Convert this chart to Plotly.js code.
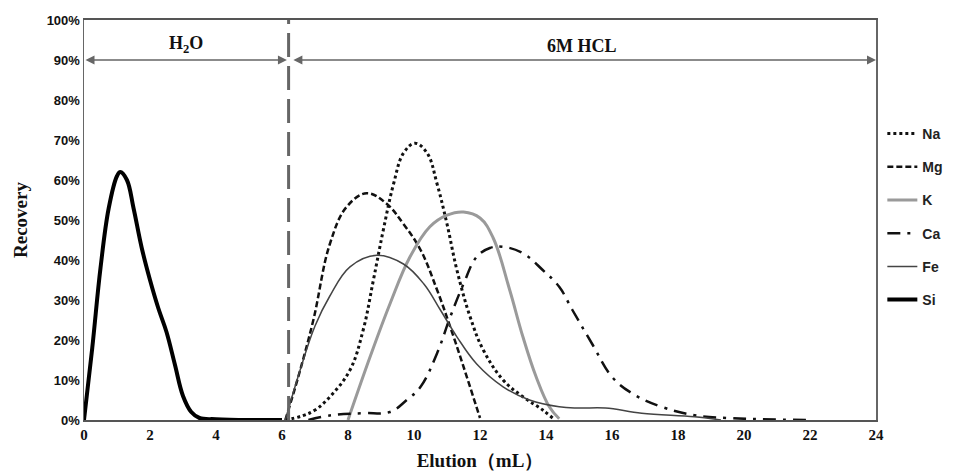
<!DOCTYPE html>
<html><head><meta charset="utf-8">
<script src="https://cdn.plot.ly/plotly-3.0.1.min.js"></script>
<style>html,body{margin:0;padding:0;background:#fff}#chart{width:968px;height:472px}</style>
</head><body><div id="chart"></div>
<script>
// Data (Elution mL vs Recovery %)
const naX = [6.1, 6.6, 7.0, 7.45, 8.06, 8.46, 8.77, 9.07, 9.38, 9.68, 10.03, 10.4, 10.7, 11.0, 11.3, 11.7, 12.1, 12.7, 13.3, 13.9, 14.2];
const naY = [0, 1, 2.5, 5.8, 12.5, 22.5, 35, 47.5, 59, 66.7, 69.2, 66.7, 59, 49, 37.5, 25.8, 17.5, 10, 5.8, 2.5, 0.5];
const mgX = [6.1, 6.5, 6.95, 7.45, 7.96, 8.57, 9.18, 9.68, 10.2, 10.7, 11.2, 11.6, 12.0];
const mgY = [0, 11, 25, 44, 53.3, 56.7, 54, 49, 42.5, 32.5, 20.8, 10.8, 0.5];
const kX = [8.0, 8.67, 9.27, 9.88, 10.48, 11.0, 11.5, 12.0, 12.4, 12.9, 13.3, 13.7, 14.1, 14.4];
const kY = [0, 15.8, 29, 40.8, 48.3, 51.2, 52, 50.5, 45.5, 32.5, 20.8, 10.8, 3.3, 0.3];
const caX = [6.8, 7.5, 8.46, 9.27, 9.78, 10.2, 10.7, 11.1, 11.5, 11.9, 12.3, 12.7, 13.3, 13.9, 14.4, 14.8, 15.4, 16.0, 16.6, 17.5, 18.5, 19.5, 20.5, 22.0];
const caY = [0, 1.2, 1.7, 2, 5, 8.3, 16.7, 25.8, 34, 40.8, 43, 43.3, 41.7, 37.5, 33.3, 27.5, 19, 10.8, 6.7, 3.3, 1.2, 0.5, 0.2, 0];
const feX = [6.1, 6.55, 7.0, 7.45, 8.06, 8.87, 9.68, 10.3, 10.8, 11.3, 11.9, 12.7, 13.5, 14.4, 15.0, 15.8, 16.9, 18.5, 19.3];
const feY = [0, 12.5, 23.5, 31, 38.3, 41.2, 39, 34, 27.5, 20.8, 14, 8.3, 5, 3.3, 3, 3, 1.7, 0.8, 0];
const siX = [0, 0.25, 0.5, 0.75, 1.0, 1.1, 1.3, 1.5, 1.75, 2.0, 2.25, 2.5, 2.75, 3.0, 3.25, 3.5, 4, 5, 6];
const siY = [0, 18, 38, 53, 61, 62, 60, 53, 43, 35, 28, 22, 14, 6, 2, 0.5, 0.2, 0, 0];

const regionBounds = [0, 6.2, 24];
const regionLabels = ['H<sub>2</sub>O', '6M HCL'];
const xTicks = [0, 2, 4, 6, 8, 10, 12, 14, 16, 18, 20, 22, 24];
const yTicks = [0, 10, 20, 30, 40, 50, 60, 70, 80, 90, 100];

const mk = (name, x, y, line) => ({
  type: 'scatter', mode: 'lines', name, x, y, legendgroup: name,
  line: Object.assign({shape: 'spline', smoothing: 1.1}, line)
});

const traces = [
  mk('Na', naX, naY, {color: '#111', width: 3, dash: 'dot'}),
  mk('Mg', mgX, mgY, {color: '#111', width: 2.5, dash: '6px,3px'}),
  mk('K', kX, kY, {color: '#9a9a9a', width: 3}),
  mk('Ca', caX, caY, {color: '#111', width: 2.5, dash: '13px,7px,3px,7px'}),
  mk('Fe', feX, feY, {color: '#444', width: 1.5}),
  mk('Si', siX, siY, {color: '#000', width: 4})
];

const serif = 'Liberation Serif, Times New Roman, serif';
const sans = 'Liberation Sans, Arial, sans-serif';

const annotations = [];
for (let i = 0; i < regionLabels.length; i++) {
  const a = regionBounds[i], b = regionBounds[i + 1];
  annotations.push({
    x: b - (i === 0 ? 0.05 : 0), y: 90, ax: a + (i === 1 ? 0.1 : 0), ay: 90,
    xref: 'x', yref: 'y', axref: 'x', ayref: 'y', text: '',
    showarrow: true, arrowside: 'end+start', arrowhead: 2, arrowsize: 1.2,
    arrowwidth: 1.5, arrowcolor: '#666', standoff: 0, startstandoff: 0
  });
  annotations.push({
    x: (a + b) / 2, y: 90, xref: 'x', yref: 'y', text: regionLabels[i],
    showarrow: false, yanchor: 'bottom', yshift: 2,
    font: {family: serif, size: 18, color: '#111', weight: 'bold'}
  });
}

const layout = {
  width: 968, height: 472,
  margin: {l: 84, r: 92, t: 20, b: 52},
  paper_bgcolor: '#fff', plot_bgcolor: '#fff',
  showlegend: true,
  legend: {x: 1.008, y: 0.755, xanchor: 'left', yanchor: 'top', tracegroupgap: 12,
    font: {family: sans, size: 14, color: '#222', weight: 'bold'}, bgcolor: 'rgba(0,0,0,0)'},
  xaxis: {
    range: [0, 24], tickvals: xTicks, ticktext: xTicks.map(String), showgrid: false, zeroline: false,
    showline: true, linecolor: '#555', linewidth: 2, mirror: true, ticks: '',
    tickfont: {family: serif, size: 15, color: '#111', weight: 'bold'},
    title: {text: 'Elution（mL）', font: {family: serif, size: 19, color: '#111', weight: 'bold'}, standoff: 12}
  },
  yaxis: {
    range: [0, 100], tickvals: yTicks, ticktext: yTicks.map(v => v + '%'), showgrid: false, zeroline: false,
    showline: true, linecolor: '#666', linewidth: 1.5, mirror: true, ticks: '',
    tickfont: {family: sans, size: 13, color: '#111', weight: 'bold'},
    title: {text: 'Recovery', font: {family: serif, size: 19, color: '#111', weight: 'bold'}, standoff: 14}
  },
  shapes: [{
    type: 'line', xref: 'x', yref: 'y', x0: regionBounds[1], x1: regionBounds[1], y0: 0, y1: 100,
    line: {color: '#666', width: 3, dash: '24px,9px'}
  }],
  annotations
};

Plotly.newPlot('chart', traces, layout, {displayModeBar: false, staticPlot: true});
</script>
</body></html>
